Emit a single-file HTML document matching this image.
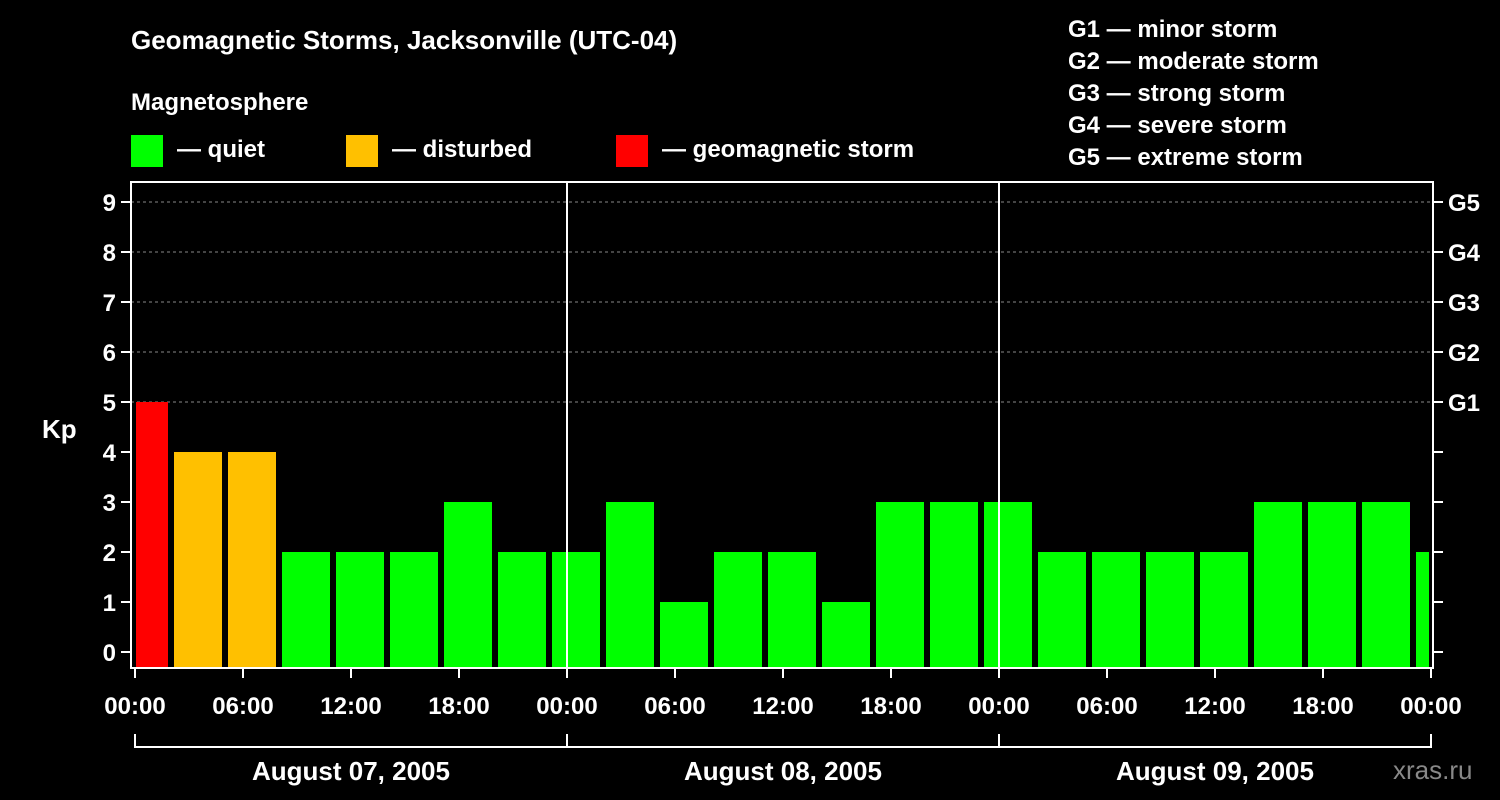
<!DOCTYPE html>
<html><head><meta charset="utf-8"><style>
html,body{margin:0;padding:0;background:#000;}
svg{display:block;font-family:"Liberation Sans",Arial,sans-serif;font-weight:bold;}
</style></head><body>
<svg id="chart" width="1500" height="800" viewBox="0 0 1500 800">
<rect width="1500" height="800" fill="#000"/>
<text x="131" y="49" fill="#fff" font-size="26">Geomagnetic Storms, Jacksonville (UTC-04)</text>
<text x="131" y="110" fill="#fff" font-size="24">Magnetosphere</text>
<g><rect x="131" y="135" width="32" height="32" fill="#00ff00"/><text x="177" y="157" fill="#fff" font-size="24">— quiet</text></g>
<g><rect x="346" y="135" width="32" height="32" fill="#ffc000"/><text x="392" y="157" fill="#fff" font-size="24">— disturbed</text></g>
<g><rect x="616" y="135" width="32" height="32" fill="#ff0000"/><text x="662" y="157" fill="#fff" font-size="24">— geomagnetic storm</text></g>
<g fill="#fff" font-size="24">
<text x="1068" y="37">G1 — minor storm</text>
<text x="1068" y="69">G2 — moderate storm</text>
<text x="1068" y="101">G3 — strong storm</text>
<text x="1068" y="133">G4 — severe storm</text>
<text x="1068" y="165">G5 — extreme storm</text>
</g>
<text x="42" y="438" fill="#fff" font-size="26">Kp</text>
<text x="1393" y="779" fill="#888" font-size="26" font-weight="normal">xras.ru</text>
<g id="grid"></g><g id="bars"></g><g id="axes"></g>
</svg>
<script>
const kpValues=[5,4,4,2,2,2,3,2,2,3,1,2,2,1,3,3,3,2,2,2,2,3,3,3,2];
const startHour=-1; // first interval start, hours from Aug 07 00:00 local
const dayLabels=["August 07, 2005","August 08, 2005","August 09, 2005"];
const timeLabels=["00:00","06:00","12:00","18:00"];
const gLabels=["G1","G2","G3","G4","G5"];
const kpTicks=[0,1,2,3,4,5,6,7,8,9];

const NS="http://www.w3.org/2000/svg";
const L=131,R=1433,T=182,B=668,X0=135,PXH=18;
const x=h=>X0+h*PXH, y=k=>652-k*50;
function mk(tag,attrs,parent,text){const e=document.createElementNS(NS,tag);for(const k in attrs)e.setAttribute(k,attrs[k]);if(text!==undefined)e.textContent=text;parent.appendChild(e);return e;}
const grid=document.getElementById('grid'),bars=document.getElementById('bars'),axes=document.getElementById('axes');
for(let k=5;k<=9;k++){const l=mk('line',{x1:L,x2:R,y1:y(k),y2:y(k),stroke:'#888','stroke-dasharray':'3,3'},grid);

}
const col=v=>v>=5?'#ff0000':(v>=4?'#ffc000':'#00ff00');
kpValues.forEach((v,i)=>{let a=x(startHour+i*3)+3,b=x(startHour+i*3+3)-3;a=Math.max(a,L+5);b=Math.min(b,R-4);
const r=mk('rect',{x:a,y:y(v),width:b-a,height:B-y(v),fill:col(v)},bars);

});
const days=dayLabels.length;
for(let d=1;d<days;d++){const l=mk('line',{x1:x(d*24),x2:x(d*24),y1:T,y2:B,stroke:'#fff','stroke-width':2},axes);

}
const fr=mk('rect',{x:L,y:T,width:R-L,height:B-T,fill:'none',stroke:'#fff','stroke-width':2},axes);


kpTicks.forEach(k=>{mk('line',{x1:L-10,x2:L,y1:y(k),y2:y(k),stroke:'#fff','stroke-width':2},axes);
mk('line',{x1:R,x2:R+10,y1:y(k),y2:y(k),stroke:'#fff','stroke-width':2},axes);
const t=mk('text',{x:116,y:y(k)+9,fill:'#fff','font-size':24,'text-anchor':'end'},axes,String(k));

});
gLabels.forEach((g,i)=>{const t=mk('text',{x:1448,y:y(5+i)+9,fill:'#fff','font-size':24},axes,g);

});
for(let h=0;h<=days*24;h+=6){mk('line',{x1:x(h),x2:x(h),y1:B,y2:B+10,stroke:'#fff','stroke-width':2},axes);
const t=mk('text',{x:x(h),y:714,fill:'#fff','font-size':24,'text-anchor':'middle'},axes,timeLabels[(h/6)%4]);

}
mk('line',{x1:x(0),x2:x(days*24),y1:747,y2:747,stroke:'#fff','stroke-width':2},axes);
for(let d=0;d<=days;d++)mk('line',{x1:x(d*24),x2:x(d*24),y1:734,y2:748,stroke:'#fff','stroke-width':2},axes);
dayLabels.forEach((s,d)=>{const t=mk('text',{x:x(d*24+12),y:780,fill:'#fff','font-size':26,'text-anchor':'middle'},axes,s);

});
</script>
</body></html>
